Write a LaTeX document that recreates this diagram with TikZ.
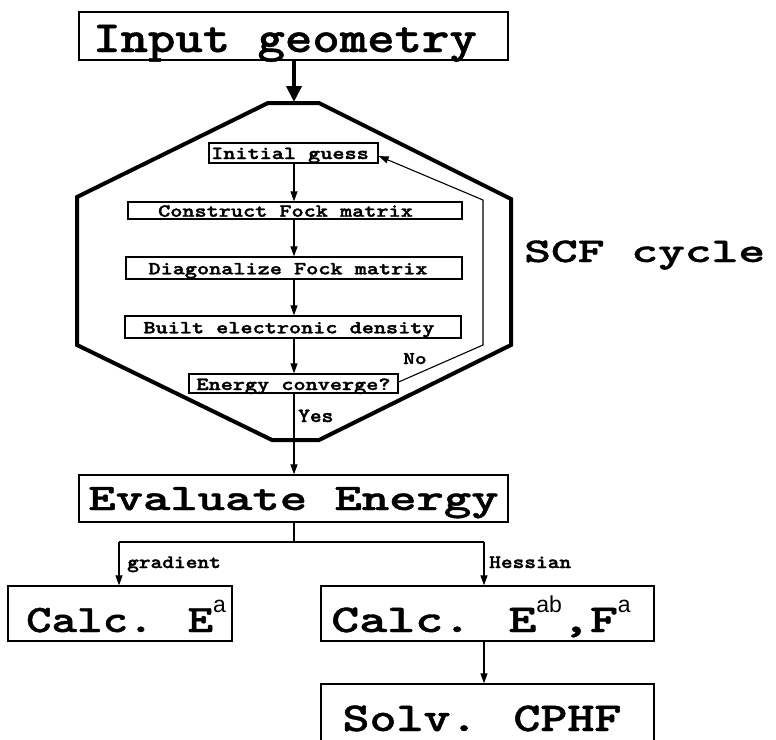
\documentclass[tikz,border=0pt]{standalone}
\usepackage{fontspec}
\usepackage{graphicx}
\newfontfamily\helv{Liberation Sans}
\newfontfamily\courbold{lmmonolt10-bold.otf}[FakeBold=1.6]
\newfontfamily\courbig{lmmonolt10-bold.otf}[FakeBold=1.0]
\usetikzlibrary{arrows.meta}
\newcommand\fsz[1]{\fontsize{#1}{#1}\selectfont}
\newcommand\vsc[2]{\scalebox{1}[#1]{#2}}
\newcommand\supx[1]{\raisebox{20pt}{\helv\mdseries\fsz{23}#1}}
\begin{document}
\begin{tikzpicture}[x=1pt,y=-1pt,
  box/.style={draw,line width=1.3pt,inner sep=0pt},
  tfont/.style={font=\courbig\fsz{#1}},
  sfont/.style={font=\courbold\fsz{#1}},
  lab/.style={inner sep=0pt,anchor=base west,font=\courbold\fsz{22.3}},
  thin/.style={line width=1.1pt,-{Triangle[length=10pt,width=7pt]}},
  plain/.style={line width=1.1pt}]
\useasboundingbox (0,0) rectangle (776,739);
% main boxes
\node[box,minimum width=429pt,text height=40pt,text depth=8pt,tfont=52.2] (inp) at (293.5,36) {\vsc{0.85}{Input geometry}\hspace*{17pt}};
\node[box,minimum width=429pt,text height=35pt,text depth=12pt,tfont=52.1] (eval) at (293.5,498.5) {\vsc{0.72}{Evaluate Energy}};
\node[box,minimum width=224pt,text height=46pt,text depth=9pt,tfont=48.6] (cea) at (120,613.5) {\hspace*{12pt}\vsc{0.8}{Calc. E}\supx{a}};
\node[box,minimum width=333pt,text height=46pt,text depth=9pt,tfont=53.3] (ceab) at (487.5,613.5) {\vsc{0.74}{Calc. E}\supx{ab}\vsc{0.74}{,F}\supx{a}\hspace*{13pt}};
\node[box,minimum width=333pt,text height=47pt,text depth=11pt,tfont=51.4] (solv) at (487.5,713) {\vsc{0.8}{Solv. CPHF}\hspace*{11pt}};
% inner boxes
\node[box,minimum width=169pt,text height=16pt,text depth=4pt,sfont=23.1] (ig) at (293.5,153) {\vsc{0.8}{Initial guess}\hspace*{7pt}};
\node[box,minimum width=334pt,text height=14.7pt,text depth=2.3pt,sfont=23.1] (cf) at (295,210.5) {\vsc{0.8}{Construct Fock matrix}\hspace*{19pt}};
\node[box,minimum width=336pt,text height=17.3pt,text depth=4.7pt,sfont=23.1] (df) at (294,268) {\vsc{0.8}{Diagonalize Fock matrix}\hspace*{12pt}};
\node[box,minimum width=336pt,text height=17.3pt,text depth=4.7pt,sfont=23.1] (bd) at (293,327) {\vsc{0.8}{Built electronic density}\hspace*{8pt}};
\node[box,minimum width=209pt,text height=16pt,text depth=3pt,sfont=23.1] (ec) at (293.5,383.5) {\vsc{0.8}{Energy converge?}};
% hexagon
\coordinate (hextop) at (294,102);
\draw[line width=4pt,line join=miter] (268,103) -- (319,103) -- (511,199) -- (511,345) -- (319,440) -- (272,440) -- (77,345) -- (77,197) -- cycle;
\node[inner sep=0pt,anchor=base west,tfont=51] (scf) at (524,262) {\vsc{0.68}{SCF cycle}};
% arrows
\draw[line width=4pt,-{Triangle[length=16pt,width=15pt]}] (inp.south -| hextop) -- (hextop);
\draw[thin] (ig.south -| 294,0) -- (cf.north -| 294,0);
\draw[thin] (cf.south -| 294,0) -- (df.north -| 294,0);
\draw[thin] (df.south -| 294,0) -- (bd.north -| 294,0);
\draw[thin] (bd.south -| 294,0) -- (ec.north -| 294,0);
\draw[thin] (ec.south -| 294,0) -- (eval.north -| 294,0);
\coordinate (fb1) at (483,345);
\coordinate (fb2) at (483,200);
\draw[thin] (ec.east |- 0,382) -- (fb1) -- (fb2) -- (ig.east |- 0,156);
\node[lab] (no) at (403,364) {\vsc{0.8}{No}};
\node[lab] (yes) at (298,422) {\vsc{0.9}{Yes}};
% branch
\coordinate (br) at (294,542);
\coordinate (brl) at (119,542);
\coordinate (brr) at (484,542);
\draw[plain] (eval.south -| br) -- (br);
\draw[plain] (brl) -- (brr);
\draw[thin] (brl) -- (cea.north -| brl);
\draw[thin] (brr) -- (ceab.north -| brr);
\draw[thin] (ceab.south -| brr) -- (solv.north -| brr);
\node[lab] (grad) at (127,568) {\vsc{0.85}{gradient}};
\node[lab] (hess) at (489,568) {\vsc{0.85}{Hessian}};
\end{tikzpicture}
\end{document}
